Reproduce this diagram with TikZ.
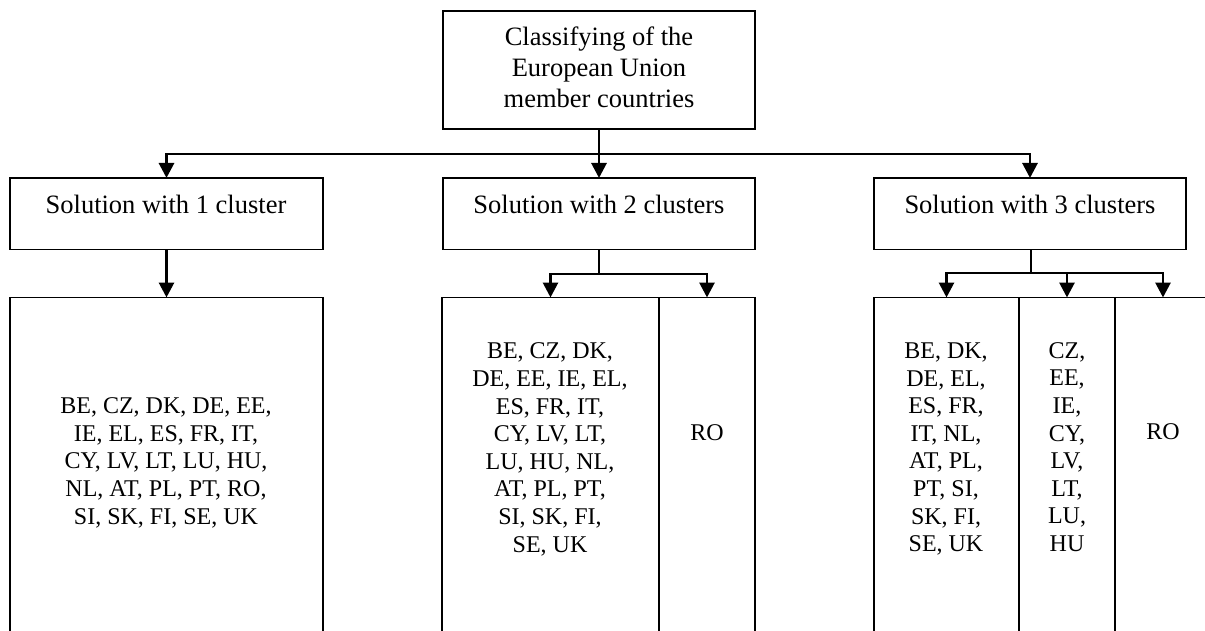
\documentclass[tikz,border=0pt]{standalone}
\usepackage{fontspec}
\setmainfont{Liberation Serif}
\usetikzlibrary{arrows.meta}
\tikzset{
  box/.style={draw, line width=1.5pt, inner sep=0pt, outer sep=0pt, anchor=north west},
  conn/.style={line width=2.9pt, -{Triangle[width=15pt,length=15pt]}},
  big/.style={font=\fontsize{26.5}{31}\selectfont, align=center, inner sep=0pt},
  small/.style={font=\fontsize{24}{27.6}\selectfont, align=center, inner sep=0pt},
}
\begin{document}
\begin{tikzpicture}[x=1pt,y=-1pt]
\useasboundingbox (0,0) rectangle (1205,631);
\clip (0,0) rectangle (1205,631);
% top box
\node[box, minimum width=312pt, minimum height=118pt] (top) at (443,11) {};
\node[big] (ttop) at (599,67) {Classifying of the\\European Union\\member countries};
% middle boxes
\node[box, minimum width=313pt, minimum height=71.5pt] (m1) at (10,178) {};
\node[box, minimum width=312pt, minimum height=71.5pt] (m2) at (443,178) {};
\node[box, minimum width=312pt, minimum height=71.5pt] (m3) at (874,178) {};
\node[big, anchor=base] (tm1) at (166,214) {Solution with 1 cluster};
\node[big, anchor=base] (tm2) at (599,214) {Solution with 2 clusters};
\node[big, anchor=base] (tm3) at (1030,214) {Solution with 3 clusters};
% bottom boxes
\node[box, minimum width=313pt, minimum height=400pt] (b1) at (10,297.5) {};
\node[box, minimum width=217pt, minimum height=400pt] (b2a) at (442,297.5) {};
\node[box, minimum width=96pt, minimum height=400pt] (b2b) at (659,297.5) {};
\node[box, minimum width=145pt, minimum height=400pt] (b3a) at (874,297.5) {};
\node[box, minimum width=96pt, minimum height=400pt] (b3b) at (1019,297.5) {};
\node[box, minimum width=96pt, minimum height=400pt] (b3c) at (1115,297.5) {};
\node[small] (tb1) at (166,462.7) {BE, CZ, DK, DE, EE,\\IE, EL, ES, FR, IT,\\CY, LV, LT, LU, HU,\\NL, AT, PL, PT, RO,\\SI, SK, FI, SE, UK};
\node[small] (tb2a) at (550,449.3) {BE, CZ, DK,\\DE, EE, IE, EL,\\ES, FR, IT,\\CY, LV, LT,\\LU, HU, NL,\\AT, PL, PT,\\SI, SK, FI,\\SE, UK};
\node[small] (tb2b) at (707,433) {RO};
\node[small] (tb3a) at (946,449) {BE, DK,\\DE, EL,\\ES, FR,\\IT, NL,\\AT, PL,\\PT, SI,\\SK, FI,\\SE, UK};
\node[small] (tb3b) at (1067,447) {CZ,\\EE,\\IE,\\CY,\\LV,\\LT,\\LU,\\HU};
\node[small] (tb3c) at (1163,432) {RO};
% junction points
\coordinate (j0) at (599,154);
\coordinate (j2) at (599,274);
\coordinate (j3) at (1031,273);
% connectors
\draw[conn] (top.south) -- (j0) -| (m1.north);
\draw[conn] (top.south) -- (j0) -| (m2.north);
\draw[conn] (top.south) -- (j0) -| (m3.north);
\draw[conn] (m1.south) -- (b1.north);
\draw[conn] (m2.south) -- (j2) -| (b2a.north);
\draw[conn] (m2.south) -- (j2) -| (b2b.north);
\draw[conn] (m3.south -| j3) -- (j3) -| (b3a.north);
\draw[conn] (m3.south -| j3) -- (j3) -| (b3b.north);
\draw[conn] (m3.south -| j3) -- (j3) -| (b3c.north);
\end{tikzpicture}
\end{document}
